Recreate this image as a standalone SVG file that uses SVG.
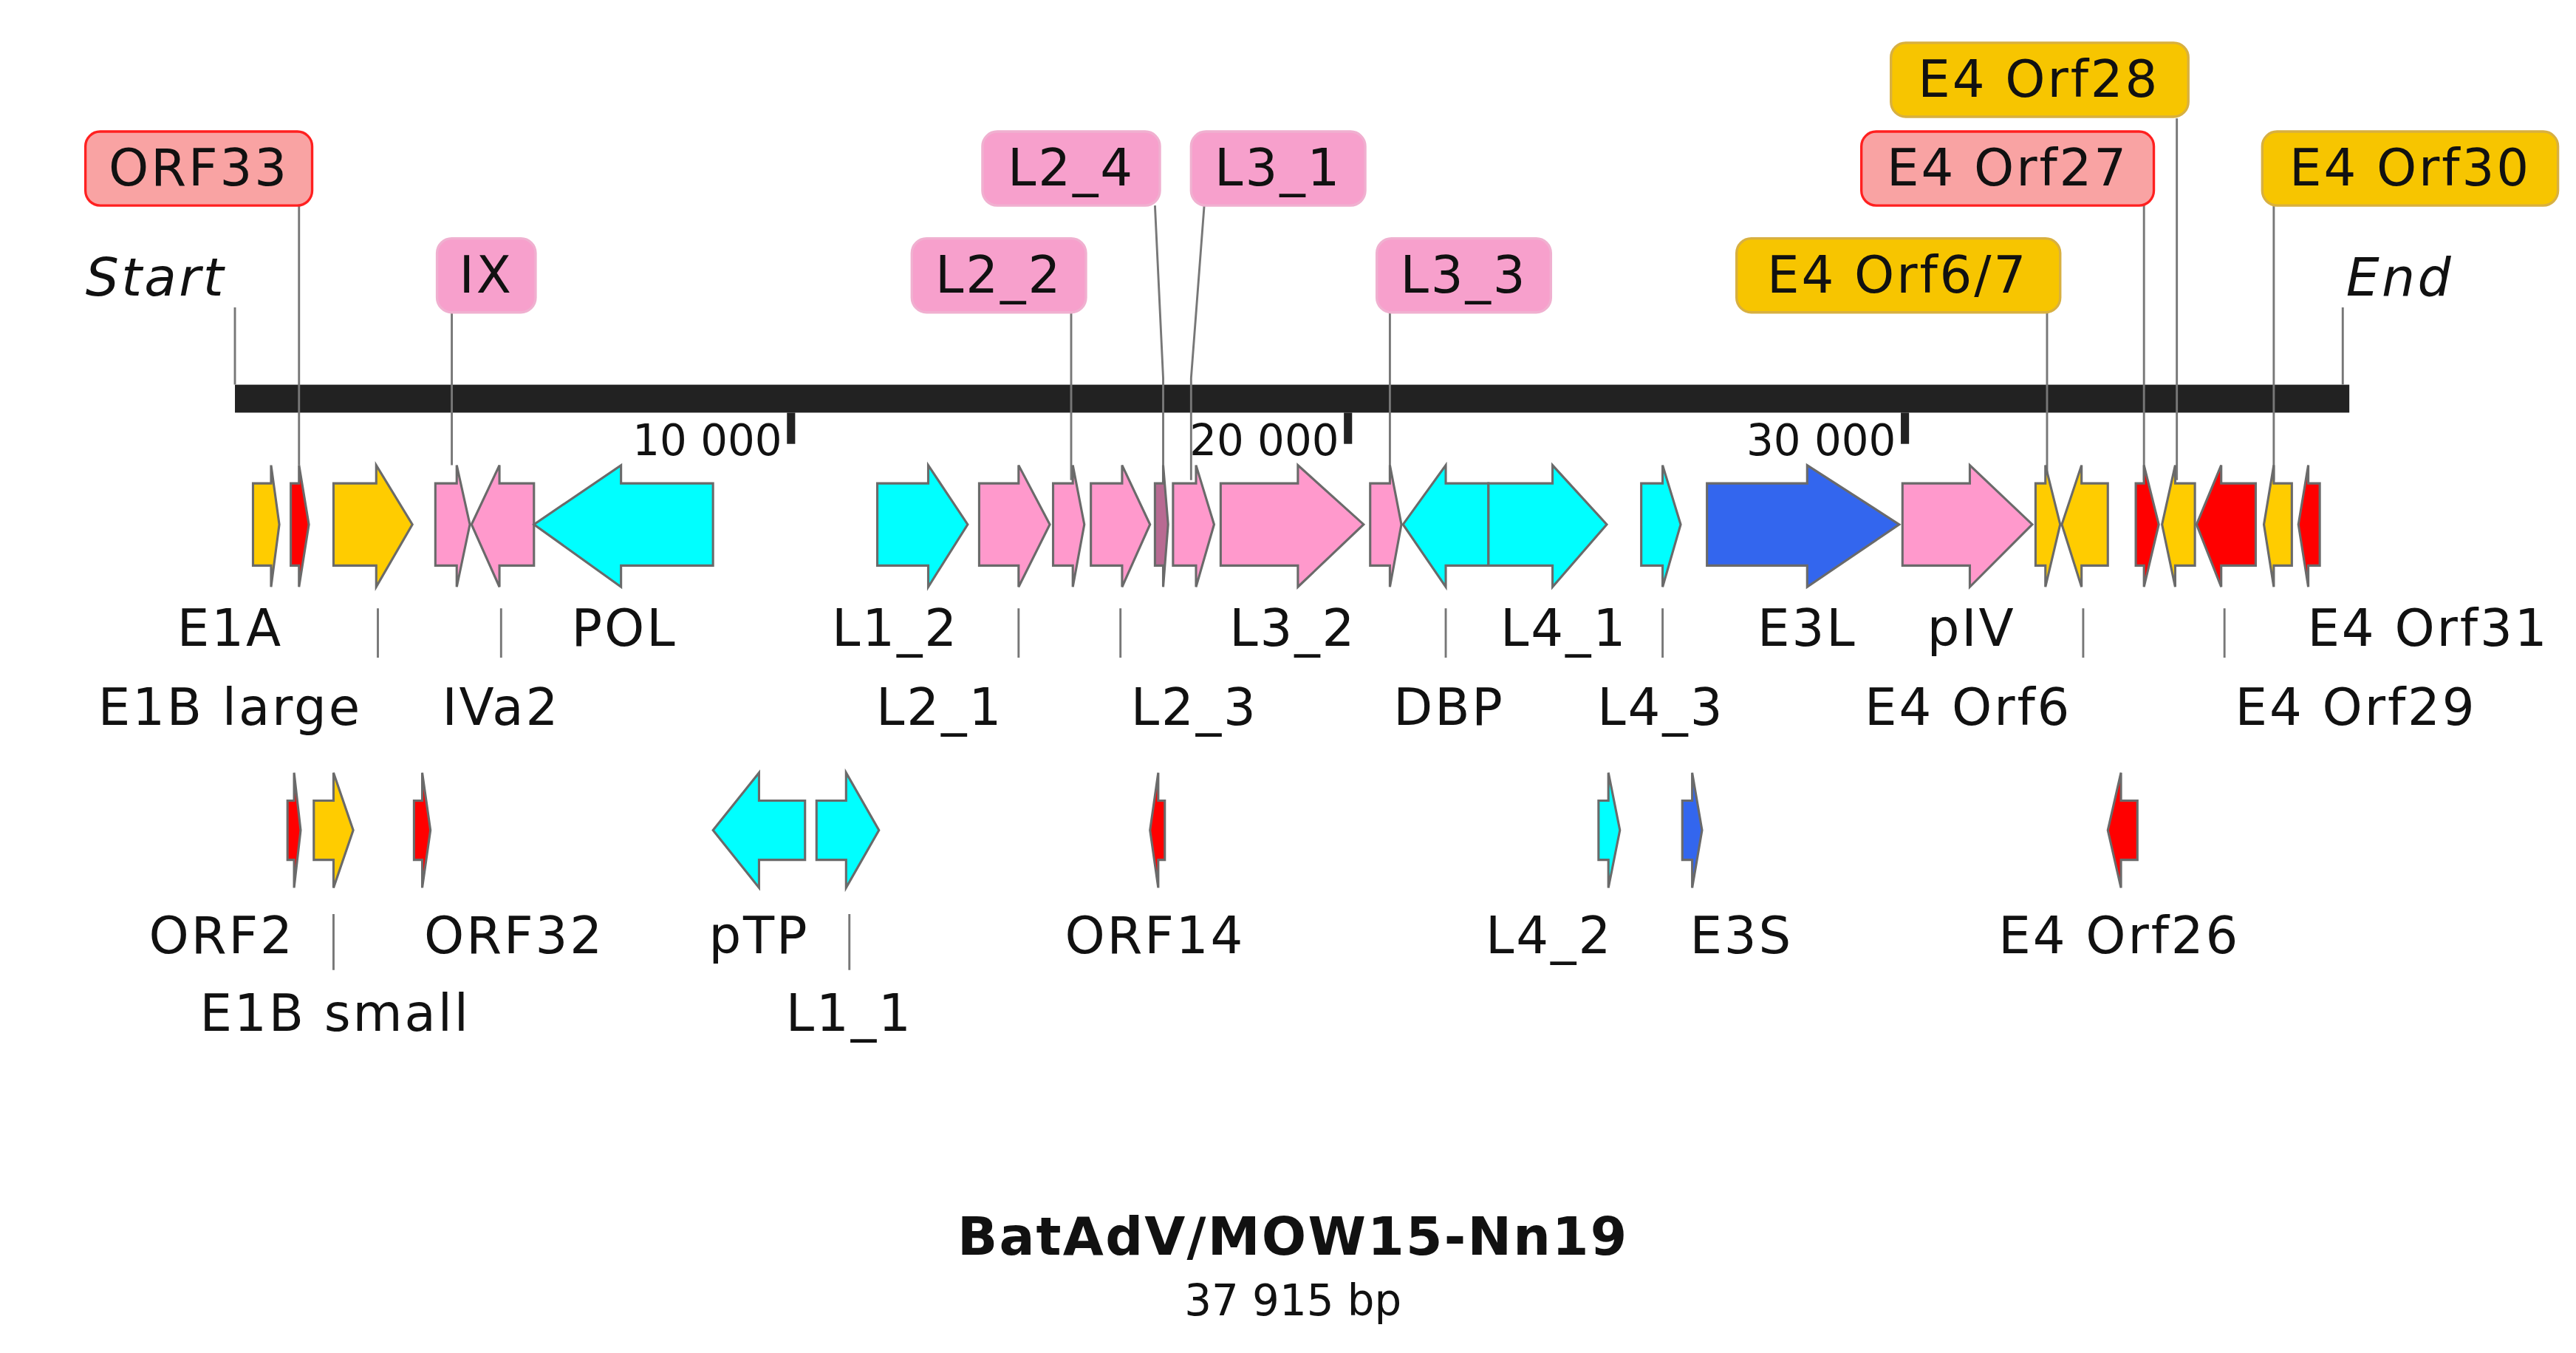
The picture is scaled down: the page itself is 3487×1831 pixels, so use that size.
<svg xmlns="http://www.w3.org/2000/svg" width="3487" height="1831" viewBox="0 0 3487 1831">
<style>
text{font-family:"DejaVu Sans","Verdana",sans-serif;fill:#111}
.lb{font-size:31px;text-anchor:middle;letter-spacing:1.3px}
.tk{font-size:26px;text-anchor:end}
.it{font-size:32px;font-style:italic;letter-spacing:1.5px}
.g path{stroke:#6a6a6a;stroke-width:1.4;stroke-linejoin:miter}
.y{fill:#ffcc00}.r{fill:#ff0000}.p{fill:#ff99cc}.c{fill:#00ffff}.b{fill:#3366ee}.m{fill:#b86a92}
.ld{stroke:#777;stroke-width:1.3;fill:none}
.bx{stroke-width:1.5}
</style>
<rect width="3487" height="1831" fill="#fff"/>
<g transform="scale(2.2239,2.2248)">
<g id="backbone">
<rect x="143" y="234" width="1287" height="17" fill="#222"/>
<text class="it" x="52" y="180">Start</text>
<text class="it" x="1428" y="180">End</text>
<rect x="479" y="251" width="5" height="19" fill="#222"/>
<rect x="818" y="251" width="5" height="19" fill="#222"/>
<rect x="1157" y="251" width="5" height="19" fill="#222"/>
<text class="tk" x="476" y="277">10 000</text>
<text class="tk" x="815" y="277">20 000</text>
<text class="tk" x="1154" y="277">30 000</text>
</g>
<g id="connectors">
<path class="ld" d="M143,187V234M1426,187V234"/>
<path class="ld" d="M182,124V283M275,190V283M652,190V292M703,125L708,230V292M733,125L725,230V292M846,190V292M1246,190V292M1305,125V292M1325,72V292M1384,125V292"/>
<path class="ld" d="M230,370V400M305,370V400M620,370V400M682,370V400M880,370V400M1012,370V400M1268,370V400M1354,370V400M203,556V590M517,556V590"/>
</g>
<g class="g" id="genes">
<g id="E1A"><path class="y" d="M154,294H165V283L170,319L165,357V344H154Z"/></g>
<g id="ORF33"><path class="r" d="M177,294H182V283L188,319L182,357V344H177Z"/></g>
<g id="E1B_large"><path class="y" d="M203,294H229V283L251,319L229,357V344H203Z"/></g>
<g id="IX"><path class="p" d="M265,294H278V283L286,319L278,357V344H265Z"/></g>
<g id="IVa2"><path class="p" d="M325,294H304V283L287,319L304,357V344H325Z"/></g>
<g id="POL"><path class="c" d="M434,294H378V283L325,319L378,357V344H434Z"/></g>
<g id="L1_2"><path class="c" d="M534,294H565V283L589,319L565,357V344H534Z"/></g>
<g id="L2_1"><path class="p" d="M596,294H620V283L639,319L620,357V344H596Z"/></g>
<g id="L2_2"><path class="p" d="M641,294H653V283L660,319L653,357V344H641Z"/></g>
<g id="L2_3"><path class="p" d="M664,294H683V283L700,319L683,357V344H664Z"/></g>
<g id="L2_4"><path class="m" d="M703,294H708V283L711,319L708,357V344H703Z"/></g>
<g id="L3_1"><path class="p" d="M714,294H728V283L739,319L728,357V344H714Z"/></g>
<g id="L3_2"><path class="p" d="M743,294H790V283L830,319L790,357V344H743Z"/></g>
<g id="L3_3"><path class="p" d="M834,294H846V283L853,319L846,357V344H834Z"/></g>
<g id="DBP"><path class="c" d="M906,294H880V283L854,319L880,357V344H906Z"/></g>
<g id="L4_1"><path class="c" d="M906,294H945V283L978,319L945,357V344H906Z"/></g>
<g id="L4_3"><path class="c" d="M999,294H1012V283L1023,319L1012,357V344H999Z"/></g>
<g id="E3L"><path class="b" d="M1039,294H1100V283L1156,319L1100,357V344H1039Z"/></g>
<g id="pIV"><path class="p" d="M1158,294H1199V283L1237,319L1199,357V344H1158Z"/></g>
<g id="E4_Orf6_7"><path class="y" d="M1239,294H1245V283L1254,319L1245,357V344H1239Z"/></g>
<g id="E4_Orf6"><path class="y" d="M1283,294H1267V283L1255,319L1267,357V344H1283Z"/></g>
<g id="E4_Orf27"><path class="r" d="M1300,294H1305V283L1314,319L1305,357V344H1300Z"/></g>
<g id="E4_Orf28"><path class="y" d="M1336,294H1324V283L1316,319L1324,357V344H1336Z"/></g>
<g id="E4_Orf29"><path class="r" d="M1373,294H1352V283L1337,319L1352,357V344H1373Z"/></g>
<g id="E4_Orf30"><path class="y" d="M1395,294H1384V283L1378,319L1384,357V344H1395Z"/></g>
<g id="E4_Orf31"><path class="r" d="M1412,294H1405V283L1399,319L1405,357V344H1412Z"/></g>
<g id="ORF2"><path class="r" d="M175,487H179V470L183,505L179,540V523H175Z"/></g>
<g id="E1B_small"><path class="y" d="M191,487H203V470L215,505L203,540V523H191Z"/></g>
<g id="ORF32"><path class="r" d="M252,487H257V470L262,505L257,540V523H252Z"/></g>
<g id="pTP"><path class="c" d="M490,487H462V470L434,505L462,540V523H490Z"/></g>
<g id="L1_1"><path class="c" d="M497,487H515V470L535,505L515,540V523H497Z"/></g>
<g id="ORF14"><path class="r" d="M709,487H705V470L700,505L705,540V523H709Z"/></g>
<g id="L4_2"><path class="c" d="M973,487H979V470L986,505L979,540V523H973Z"/></g>
<g id="E3S"><path class="b" d="M1024,487H1030V470L1036,505L1030,540V523H1024Z"/></g>
<g id="E4_Orf26"><path class="r" d="M1301,487H1291V470L1283,505L1291,540V523H1301Z"/></g>
</g>
<g id="callouts">
<rect class="bx" x="52" y="80" width="138" height="45" rx="9" fill="#f9a3a3" stroke="#ff2020"/><text class="lb" x="121" y="113">ORF33</text>
<rect class="bx" x="266" y="145" width="60" height="45" rx="9" fill="#f7a0cc" stroke="#f0b0d0"/><text class="lb" x="296" y="178">IX</text>
<rect class="bx" x="555" y="145" width="106" height="45" rx="9" fill="#f7a0cc" stroke="#f0b0d0"/><text class="lb" x="608" y="178">L2_2</text>
<rect class="bx" x="598" y="80" width="108" height="45" rx="9" fill="#f7a0cc" stroke="#f0b0d0"/><text class="lb" x="652" y="113">L2_4</text>
<rect class="bx" x="725" y="80" width="106" height="45" rx="9" fill="#f7a0cc" stroke="#f0b0d0"/><text class="lb" x="778" y="113">L3_1</text>
<rect class="bx" x="838" y="145" width="106" height="45" rx="9" fill="#f7a0cc" stroke="#f0b0d0"/><text class="lb" x="891" y="178">L3_3</text>
<rect class="bx" x="1057" y="145" width="197" height="45" rx="9" fill="#f7c500" stroke="#d8b040"/><text class="lb" x="1155" y="178">E4 Orf6/7</text>
<rect class="bx" x="1133" y="80" width="178" height="45" rx="9" fill="#f9a3a3" stroke="#ff2020"/><text class="lb" x="1222" y="113">E4 Orf27</text>
<rect class="bx" x="1151" y="26" width="181" height="45" rx="9" fill="#f7c500" stroke="#d8b040"/><text class="lb" x="1241" y="59">E4 Orf28</text>
<rect class="bx" x="1377" y="80" width="180" height="45" rx="9" fill="#f7c500" stroke="#d8b040"/><text class="lb" x="1467" y="113">E4 Orf30</text>
</g>
<g id="labels">
<text class="lb" x="140" y="393">E1A</text>
<text class="lb" x="380" y="393">POL</text>
<text class="lb" x="545" y="393">L1_2</text>
<text class="lb" x="787" y="393">L3_2</text>
<text class="lb" x="952" y="393">L4_1</text>
<text class="lb" x="1100" y="393">E3L</text>
<text class="lb" x="1200" y="393">pIV</text>
<text class="lb" x="1478" y="393">E4 Orf31</text>
<text class="lb" x="140" y="441">E1B large</text>
<text class="lb" x="305" y="441">IVa2</text>
<text class="lb" x="572" y="441">L2_1</text>
<text class="lb" x="727" y="441">L2_3</text>
<text class="lb" x="882" y="441">DBP</text>
<text class="lb" x="1011" y="441">L4_3</text>
<text class="lb" x="1198" y="441">E4 Orf6</text>
<text class="lb" x="1434" y="441">E4 Orf29</text>
<text class="lb" x="135" y="580">ORF2</text>
<text class="lb" x="313" y="580">ORF32</text>
<text class="lb" x="462" y="580">pTP</text>
<text class="lb" x="703" y="580">ORF14</text>
<text class="lb" x="943" y="580">L4_2</text>
<text class="lb" x="1060" y="580">E3S</text>
<text class="lb" x="1290" y="580">E4 Orf26</text>
<text class="lb" x="204" y="627">E1B small</text>
<text class="lb" x="517" y="627">L1_1</text>
</g>
<g id="title">
<text x="787" y="763" style="font-size:32px;font-weight:bold;text-anchor:middle;letter-spacing:1px">BatAdV/MOW15-Nn19</text>
<text x="787" y="800" style="font-size:26px;text-anchor:middle">37 915 bp</text>
</g>
</g>
</svg>
